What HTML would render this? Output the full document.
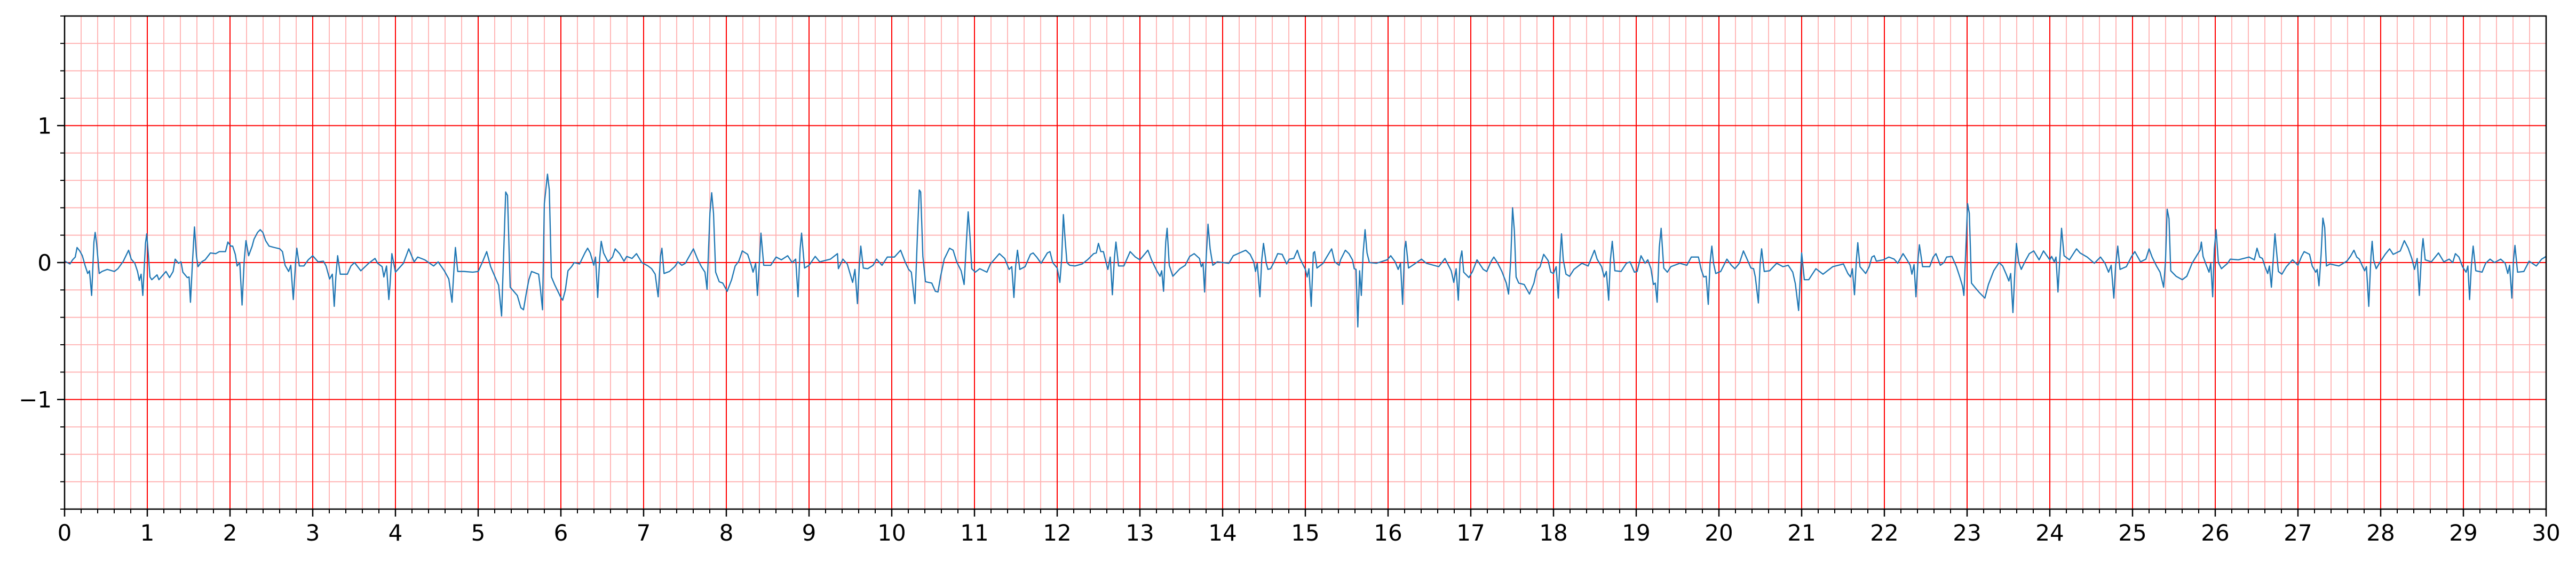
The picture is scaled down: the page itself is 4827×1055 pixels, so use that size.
<!DOCTYPE html>
<html><head><meta charset="utf-8"><style>
html,body{margin:0;padding:0;background:#fff;}
svg{display:block;}
text{font-family:"DejaVu Sans","Liberation Sans",sans-serif;fill:#000;}
</style></head><body>
<svg id="chart" width="4827" height="1055" viewBox="0 0 4827 1055" xmlns="http://www.w3.org/2000/svg">
<g id="grid"></g>
<g id="series"></g>
<g id="axes"></g>
</svg>
<script>
const xTicks=[0,1,2,3,4,5,6,7,8,9,10,11,12,13,14,15,16,17,18,19,20,21,22,23,24,25,26,27,28,29,30];
const yTicks=[-1,0,1];
const yTickLabels=["\u22121","0","1"];
const times=[0,0.065,0.097,0.129,0.151,0.183,0.215,0.247,0.28,0.301,0.327,0.355,0.37,0.387,0.419,0.452,0.516,0.602,0.645,0.71,0.774,0.806,0.849,0.882,0.903,0.925,0.946,0.978,0.993,1.011,1.032,1.054,1.118,1.14,1.226,1.269,1.312,1.337,1.376,1.408,1.43,1.484,1.505,1.522,1.548,1.57,1.595,1.613,1.656,1.699,1.763,1.828,1.871,1.946,1.974,2.01,2.032,2.064,2.086,2.118,2.146,2.172,2.193,2.225,2.268,2.29,2.333,2.365,2.397,2.43,2.473,2.537,2.602,2.634,2.666,2.709,2.735,2.765,2.795,2.808,2.838,2.892,2.946,3,
3.065,3.129,3.161,3.204,3.237,3.26,3.28,3.301,3.333,3.419,3.462,3.505,3.581,3.677,3.753,3.785,3.839,3.86,3.892,3.92,3.935,3.957,4,4.097,4.161,4.226,4.269,4.355,4.462,4.516,4.591,4.645,4.684,4.71,4.725,4.753,4.828,4.935,5,5.053,5.103,5.151,5.215,5.247,5.283,5.333,5.355,5.387,5.473,5.516,5.548,5.58,5.613,5.645,5.731,5.752,5.778,5.8,5.838,5.86,5.886,5.924,6,
6.022,6.054,6.086,6.129,6.161,6.226,6.258,6.29,6.323,6.355,6.398,6.419,6.445,6.469,6.488,6.516,6.57,6.624,6.656,6.71,6.763,6.796,6.86,6.914,6.978,7.054,7.097,7.14,7.176,7.204,7.221,7.247,7.312,7.376,7.415,7.462,7.505,7.602,7.656,7.699,7.742,7.767,7.802,7.823,7.845,7.871,7.914,7.957,8.01,8.064,8.107,8.151,8.193,8.258,8.301,8.323,8.355,8.376,8.398,8.419,8.452,8.537,8.602,8.666,8.742,8.796,8.839,8.867,8.892,8.91,8.946,9,
9.075,9.129,9.258,9.344,9.355,9.409,9.462,9.527,9.555,9.585,9.608,9.626,9.656,9.71,9.774,9.817,9.882,9.946,10.032,10.107,10.161,10.204,10.237,10.28,10.312,10.333,10.35,10.376,10.408,10.484,10.527,10.559,10.591,10.634,10.699,10.742,10.785,10.839,10.875,10.903,10.924,10.946,10.967,11.01,11.064,11.15,11.193,11.236,11.301,11.365,11.419,11.451,11.477,11.498,11.52,11.548,11.612,11.677,11.709,11.752,11.806,11.881,11.913,11.946,12,
12.032,12.054,12.075,12.097,12.118,12.151,12.215,12.301,12.366,12.441,12.473,12.499,12.527,12.559,12.591,12.613,12.641,12.667,12.692,12.71,12.742,12.806,12.882,12.946,13,13.097,13.14,13.204,13.243,13.264,13.286,13.312,13.329,13.355,13.398,13.484,13.548,13.602,13.656,13.72,13.742,13.763,13.782,13.802,13.823,13.849,13.881,13.935,14,14.075,14.129,14.204,14.279,14.333,14.376,14.398,14.419,14.451,14.473,14.494,14.527,14.548,14.58,14.623,14.666,14.72,14.774,14.806,14.86,14.903,14.935,15,
15.022,15.043,15.071,15.097,15.112,15.14,15.215,15.258,15.318,15.355,15.409,15.426,15.484,15.527,15.57,15.591,15.613,15.634,15.656,15.677,15.699,15.722,15.746,15.774,15.86,15.989,16.032,16.086,16.122,16.15,16.176,16.2,16.215,16.247,16.333,16.404,16.462,16.613,16.688,16.763,16.795,16.823,16.849,16.871,16.892,16.914,16.978,17.021,17.075,17.15,17.193,17.247,17.279,17.322,17.376,17.43,17.457,17.483,17.505,17.527,17.548,17.58,17.645,17.709,17.763,17.795,17.838,17.881,17.935,17.967,18,
18.032,18.058,18.082,18.097,18.118,18.151,18.194,18.247,18.344,18.419,18.462,18.495,18.527,18.581,18.613,18.639,18.667,18.688,18.71,18.742,18.817,18.882,18.925,18.978,19.011,19.058,19.107,19.14,19.178,19.208,19.23,19.253,19.279,19.301,19.333,19.376,19.419,19.527,19.612,19.666,19.752,19.785,19.817,19.845,19.871,19.892,19.914,19.935,19.961,20.021,20.096,20.15,20.193,20.247,20.296,20.344,20.387,20.419,20.44,20.477,20.498,20.516,20.548,20.612,20.698,20.774,20.838,20.892,20.924,20.963,20.989,
21,21.032,21.086,21.172,21.258,21.376,21.505,21.559,21.591,21.613,21.639,21.662,21.679,21.705,21.774,21.817,21.849,21.877,21.903,21.989,22.054,22.118,22.161,22.226,22.269,22.312,22.333,22.359,22.382,22.408,22.423,22.462,22.548,22.591,22.623,22.677,22.72,22.752,22.817,22.871,22.914,22.946,22.961,22.989,23.006,23.027,23.053,23.107,23.15,23.215,23.258,23.322,23.387,23.43,23.473,23.505,23.527,23.554,23.58,23.597,23.623,23.655,23.698,23.752,23.806,23.87,23.924,24,
24.022,24.054,24.075,24.099,24.125,24.142,24.172,24.237,24.323,24.366,24.452,24.538,24.613,24.667,24.71,24.742,24.774,24.796,24.821,24.849,24.925,24.989,25.028,25.097,25.161,25.2,25.237,25.29,25.333,25.376,25.398,25.419,25.441,25.462,25.527,25.602,25.656,25.72,25.785,25.817,25.832,25.853,25.892,25.925,25.946,25.969,25.989,26.01,26.038,26.075,26.15,26.182,26.279,26.408,26.473,26.505,26.537,26.57,26.602,26.634,26.655,26.679,26.705,26.722,26.763,26.806,26.86,26.935,27,
27.043,27.075,27.14,27.172,27.215,27.232,27.254,27.28,27.301,27.323,27.344,27.387,27.495,27.591,27.634,27.677,27.71,27.742,27.774,27.806,27.828,27.856,27.882,27.897,27.914,27.946,27.989,28.054,28.108,28.151,28.237,28.286,28.333,28.376,28.409,28.441,28.467,28.495,28.512,28.538,28.613,28.699,28.763,28.828,28.871,28.903,28.946,28.989,29.032,29.054,29.075,29.097,29.118,29.15,29.226,29.269,29.322,29.376,29.451,29.505,29.537,29.559,29.586,29.606,29.623,29.655,29.731,29.795,29.881,29.946,30];
const values=[0.01,-0.01,0.02,0.04,0.11,0.085,0.05,-0.02,-0.08,-0.06,-0.24,0.15,0.22,0.14,-0.08,-0.065,-0.05,-0.065,-0.045,0.01,0.09,0.025,-0.005,-0.065,-0.13,-0.085,-0.24,0.14,0.21,0.07,-0.105,-0.125,-0.09,-0.125,-0.065,-0.11,-0.065,0.025,-0.005,0.005,-0.07,-0.11,-0.105,-0.29,0.02,0.26,0.045,-0.03,0.005,0.02,0.07,0.065,0.08,0.08,0.15,0.12,0.12,0.06,-0.025,0,-0.31,0.02,0.16,0.05,0.12,0.17,0.22,0.24,0.22,0.16,0.12,0.11,0.1,0.08,-0.02,-0.065,-0.02,-0.27,0.02,0.105,-0.025,-0.025,0.02,0.05,
0.005,0.01,-0.025,-0.12,-0.085,-0.32,-0.1,0.05,-0.085,-0.085,-0.025,0,-0.06,-0.005,0.03,-0.005,-0.03,-0.105,-0.025,-0.27,-0.16,0.065,-0.07,-0.005,0.1,0.005,0.04,0.02,-0.025,0.005,-0.06,-0.12,-0.29,-0.025,0.11,-0.065,-0.065,-0.07,-0.065,0.005,0.08,-0.03,-0.12,-0.165,-0.39,0.515,0.49,-0.18,-0.24,-0.33,-0.345,-0.23,-0.125,-0.065,-0.085,-0.19,-0.345,0.43,0.645,0.53,-0.105,-0.16,-0.255,
-0.275,-0.2,-0.06,-0.03,0,-0.01,0.03,0.07,0.105,0.07,-0.02,0.04,-0.255,0.03,0.155,0.07,0.005,0.04,0.1,0.065,0.01,0.045,0.03,0.065,0,-0.025,-0.045,-0.085,-0.25,0.045,0.105,-0.08,-0.065,-0.03,0.005,-0.02,-0.005,0.1,0.02,-0.03,-0.07,-0.195,0.36,0.51,0.36,-0.07,-0.14,-0.15,-0.21,-0.125,-0.025,0.01,0.085,0.06,-0.02,-0.07,-0.005,-0.24,-0.02,0.215,-0.02,-0.02,0.04,0.02,0.05,0,0.025,-0.25,0.1,0.215,-0.04,-0.02,
0.045,0.005,0.025,0.065,-0.045,0.025,-0.01,-0.145,-0.05,-0.3,-0.02,0.12,-0.04,-0.045,-0.02,0.025,-0.02,0.04,0.04,0.09,0.005,-0.05,-0.07,-0.3,0.23,0.53,0.515,0.045,-0.14,-0.15,-0.21,-0.215,-0.1,0.025,0.105,0.09,0.005,-0.06,-0.16,0.16,0.37,0.19,-0.045,-0.07,-0.045,-0.07,-0.01,0.02,0.065,0.03,-0.05,-0.03,-0.255,-0.025,0.09,-0.05,-0.03,0.06,0.07,0.04,-0.005,0.07,0.08,0,-0.04,
-0.145,0.03,0.35,0.16,0,-0.02,-0.025,-0.01,0.02,0.065,0.07,0.14,0.08,0.08,0,-0.05,0.04,-0.235,0.04,0.15,-0.025,-0.025,0.08,0.04,0.02,0.09,0.02,-0.06,-0.1,-0.06,-0.21,0.15,0.25,-0.02,-0.1,-0.045,-0.02,0.045,0.065,0.03,-0.03,-0.005,-0.215,0.045,0.28,0.1,-0.02,0.005,0,-0.005,0.05,0.07,0.09,0.06,0.005,-0.065,-0.005,-0.25,0.02,0.14,-0.005,-0.05,-0.045,0.005,0.065,0.06,-0.01,0.025,0.03,0.09,0.03,-0.05,
-0.105,-0.045,-0.32,0.07,0.08,-0.04,-0.005,0.04,0.1,0.005,-0.02,0.02,0.09,0.065,0.02,-0.045,-0.05,-0.47,-0.06,-0.24,0.07,0.24,0.07,0,-0.005,0.02,0.05,0.005,-0.05,-0.005,-0.305,0.1,0.155,-0.04,-0.005,0.025,-0.005,-0.03,0.03,-0.06,-0.145,-0.045,-0.275,0.02,0.085,-0.07,-0.11,-0.065,0.02,-0.05,-0.065,0.01,0.04,0,-0.065,-0.15,-0.23,0.02,0.4,0.23,-0.105,-0.15,-0.16,-0.23,-0.15,-0.06,-0.03,0.06,0.015,-0.07,-0.08,
-0.03,-0.26,0.07,0.21,0.02,-0.085,-0.1,-0.05,-0.005,-0.025,0.04,0.09,0.025,-0.03,-0.105,-0.065,-0.275,0.02,0.155,-0.06,-0.065,-0.005,0.005,-0.07,-0.065,0.05,-0.005,0.02,-0.045,-0.16,-0.15,-0.29,0.11,0.25,-0.04,-0.07,-0.03,-0.005,-0.02,0.04,0.04,-0.05,-0.105,-0.1,-0.305,-0.005,0.12,-0.005,-0.08,-0.065,0.025,-0.02,-0.045,-0.005,0.085,0.02,-0.04,-0.045,-0.105,-0.295,-0.005,0.1,-0.065,-0.06,-0.005,-0.03,-0.02,-0.07,-0.155,-0.35,-0.045,
0.07,-0.125,-0.125,-0.045,-0.085,-0.03,-0.01,-0.08,-0.105,-0.045,-0.235,0.02,0.145,-0.03,-0.08,-0.03,0.04,0.05,0.01,0.02,0.04,0.025,-0.005,0.065,0.025,-0.02,-0.085,-0.015,-0.25,0.03,0.13,-0.03,-0.03,0.04,0.065,-0.02,0,0.04,0.045,-0.03,-0.11,-0.175,-0.24,0.16,0.43,0.36,-0.15,-0.19,-0.22,-0.26,-0.16,-0.06,0,-0.025,-0.085,-0.135,-0.08,-0.365,-0.03,0.14,0.005,-0.05,0.005,0.065,0.085,0.02,0.085,0.02,
0.045,0.005,0.04,-0.215,0.07,0.25,0.05,0.02,0.1,0.07,0.04,-0.005,0.04,-0.005,-0.07,-0.02,-0.26,-0.02,0.12,-0.05,-0.03,0.045,0.08,0.005,0.025,0.1,0.04,-0.025,-0.07,-0.18,0.005,0.39,0.32,-0.06,-0.1,-0.125,-0.1,-0.005,0.06,0.09,0.15,0.045,-0.02,-0.07,-0.005,-0.25,0.1,0.24,0,-0.045,-0.005,0.025,0.02,0.04,0.02,0.105,0.04,0.03,-0.03,-0.08,-0.025,-0.18,0.06,0.21,-0.065,-0.085,-0.03,0.02,-0.02,
0.045,0.08,0.06,-0.025,-0.07,-0.05,-0.17,0.06,0.325,0.255,-0.025,-0.01,-0.025,0.01,0.045,0.09,0.04,0.025,-0.02,-0.06,-0.03,-0.32,0.04,0.155,0.02,-0.045,0,0.06,0.1,0.06,0.085,0.16,0.105,0.03,-0.05,0.03,-0.24,0.07,0.175,0.02,0.005,0.07,0.005,0.025,0,0.065,0.04,-0.03,-0.07,-0.025,-0.27,-0.02,0.12,-0.06,-0.07,-0.005,0.025,0,0.025,-0.005,-0.08,-0.02,-0.26,0.02,0.125,-0.07,-0.065,0.01,-0.025,0.025,0.045];

const NS="http://www.w3.org/2000/svg";
const X0=121,X1=4771,Y0=30,Y1=954,XMIN=0,XMAX=30,YMIN=-1.8,YMAX=1.8;
function xs(t){return X0+(t-XMIN)/(XMAX-XMIN)*(X1-X0);}
function ys(v){return Y1-(v-YMIN)/(YMAX-YMIN)*(Y1-Y0);}
function mk(tag,attrs,parent){const e=document.createElementNS(NS,tag);for(const k in attrs)e.setAttribute(k,attrs[k]);parent.appendChild(e);return e;}
const grid=document.getElementById('grid'),series=document.getElementById('series'),axes=document.getElementById('axes');
// minor grid
for(let i=0;i<=150;i++){const t=i*0.2;if(i%5===0)continue;const x=xs(t);
 const l=mk('line',{x1:x,x2:x,y1:Y0,y2:Y1,stroke:'#ffb0b0','stroke-width':1.8},grid);
 
 }
for(let i=-9;i<=9;i++){if(i%5===0)continue;const y=ys(i*0.2);
 const l=mk('line',{x1:X0,x2:X1,y1:y,y2:y,stroke:'#ffb0b0','stroke-width':1.8},grid);
 
 }
xTicks.forEach(t=>{const x=xs(t);
 const l=mk('line',{x1:x,x2:x,y1:Y0,y2:Y1,stroke:'#ff0000','stroke-width':2},grid);
 
 });
yTicks.forEach(v=>{const y=ys(v);
 const l=mk('line',{x1:X0,x2:X1,y1:y,y2:y,stroke:'#ff0000','stroke-width':2},grid);
 
 });
// series
let d='';for(let i=0;i<times.length;i++){d+=(i?'L':'M')+xs(times[i]).toFixed(1)+' '+ys(values[i]).toFixed(1);}
const p=mk('path',{d:d,fill:'none',stroke:'#1f77b4','stroke-width':2.3,'stroke-linejoin':'round'},series);


// spines
const fr=mk('rect',{x:X0,y:Y0,width:X1-X0,height:Y1-Y0,fill:'none',stroke:'#000','stroke-width':2.5},axes);


// x ticks
for(let i=0;i<=150;i++){const t=i*0.2,x=xs(t),major=i%5===0;
 const tk=mk('line',{x1:x,x2:x,y1:Y1,y2:Y1+(major?14:8),stroke:'#000','stroke-width':major?2.5:2},axes);
 
 }
xTicks.forEach(t=>{const tx=mk('text',{x:xs(t),y:1013,'text-anchor':'middle','font-size':42},axes);tx.textContent=String(t);
 
 });
for(let i=-9;i<=9;i++){const y=ys(i*0.2),major=i%5===0;
 const tk=mk('line',{x1:X0-(major?14:8),x2:X0,y1:y,y2:y,stroke:'#000','stroke-width':major?2.5:2},axes);
 
 }
yTicks.forEach((v,i)=>{const tx=mk('text',{x:X0-24,y:ys(v)+15,'text-anchor':'end','font-size':42},axes);tx.textContent=yTickLabels[i];
 
 });
</script>
</body></html>
